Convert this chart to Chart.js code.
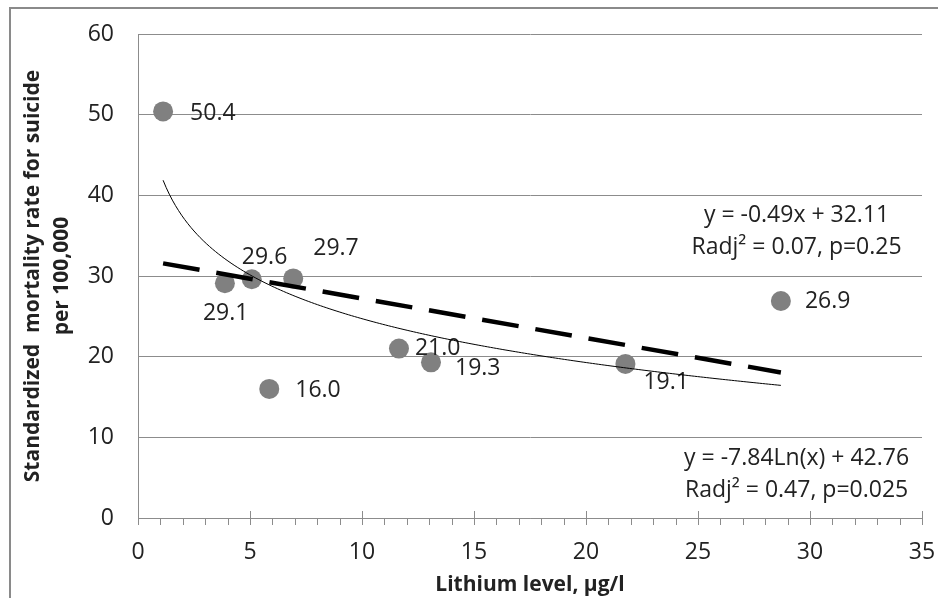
<!DOCTYPE html>
<html>
<head>
<meta charset="utf-8">
<script src="https://cdn.jsdelivr.net/npm/chart.js@4.4.1/dist/chart.umd.min.js"></script>
<style>
  html, body { margin: 0; padding: 0; background: #fff; }
  #wrap { position: relative; width: 938px; height: 598px; }
  #frame { position: absolute; left: 9px; top: 7px; right: -4px; bottom: -4px; border-top: 2px solid #8a8a8a; border-left: 2px solid #8a8a8a; }
  canvas { position: absolute; left: 0; top: 0; }
</style>
</head>
<body>
<div id="wrap">
  <div id="frame"></div>
  <canvas id="chart" width="938" height="598"></canvas>
</div>
<script>
/*-----------------------------
Data
------------------------------*/
const lithium = [1.12, 3.88, 5.08, 5.86, 6.93, 11.65, 13.08, 21.76, 28.7];
const smr = [50.4, 29.1, 29.6, 16.0, 29.7, 21.0, 19.3, 19.1, 26.9];
const pointLabels = ['50.4', '29.1', '29.6', '16.0', '29.7', '21.0', '19.3', '19.1', '26.9'];

// trend lines as printed on the chart: [slope, intercept]
const linFit = [-0.49, 32.11];
const logFit = [-7.84, 42.76];
const fitRange = [1.12, 28.7];

const linText = ['y = -0.49x + 32.11', 'Radj\u00B2 = 0.07, p=0.25'];
const logText = ['y = -7.84Ln(x) + 42.76', 'Radj\u00B2 = 0.47, p=0.025'];

const xTitle = 'Lithium level, \u00B5g/l';
const yTitle = ['Standardized  mortality rate for suicide', 'per 100,000'];

// label placement next to each point (left edge dx, middle dy), px
const labelOffsets = [[27, 2], [-22, 30], [-10, -22], [26, 2], [20, -30], [16, 0], [24, 6], [18, 19], [24, 0]];

const FONT = '"Open Sans", "DejaVu Sans", sans-serif';
const TXT = '#222';
const GRID = '#8c8c8c';

//------------------------
// trend lines, ticks, labels
//------------------------
const extras = {
  id: 'extras',
  afterDatasetsDraw(chart) {
    const c = chart.ctx;
    const xs = chart.scales.x, ys = chart.scales.y;
    const area = chart.chartArea;

    // x-axis ticks: minor every 1, major every 5 (crossing)
    c.save();
    c.strokeStyle = GRID;
    c.lineWidth = 1;
    for (let v = xs.min; v <= xs.max; v++) {
      const px = Math.round(xs.getPixelForValue(v)) + 0.5;
      c.beginPath();
      c.moveTo(px, area.bottom + (v % 5 === 0 ? -7 : 0));
      c.lineTo(px, area.bottom + 7);
      c.stroke();
    }
    c.restore();

    // point labels
    c.save();
    c.font = '23px ' + FONT;
    c.fillStyle = TXT;
    c.textBaseline = 'middle';
    c.textAlign = 'left';
    lithium.forEach((x, i) => {
      const px = xs.getPixelForValue(x), py = ys.getPixelForValue(smr[i]);
      c.fillText(pointLabels[i], px + labelOffsets[i][0], py + labelOffsets[i][1]);
    });
    c.restore();

    // linear trend (dashed)
    c.save();
    c.strokeStyle = '#000';
    c.lineWidth = 4.5;
    c.setLineDash([37, 17]);
    c.beginPath();
    c.moveTo(xs.getPixelForValue(fitRange[0]), ys.getPixelForValue(linFit[0] * fitRange[0] + linFit[1]));
    c.lineTo(xs.getPixelForValue(fitRange[1]), ys.getPixelForValue(linFit[0] * fitRange[1] + linFit[1]));
    c.stroke();
    c.restore();

    // logarithmic trend (thin)
    c.save();
    c.strokeStyle = '#000';
    c.lineWidth = 1;
    c.beginPath();
    const steps = 200;
    for (let k = 0; k <= steps; k++) {
      const x = fitRange[0] + (fitRange[1] - fitRange[0]) * k / steps;
      const px = xs.getPixelForValue(x), py = ys.getPixelForValue(logFit[0] * Math.log(x) + logFit[1]);
      if (k === 0) c.moveTo(px, py); else c.lineTo(px, py);
    }
    c.stroke();
    c.restore();

    // equations
    c.save();
    c.font = '23px ' + FONT;
    c.fillStyle = TXT;
    c.textAlign = 'center';
    c.textBaseline = 'middle';
    const cx = xs.getPixelForValue(29.4);
    c.fillText(linText[0], cx, ys.getPixelForValue(37.5));
    c.fillText(linText[1], cx, ys.getPixelForValue(33.5));
    c.fillText(logText[0], cx, ys.getPixelForValue(7.4));
    c.fillText(logText[1], cx, ys.getPixelForValue(3.4));
    c.restore();
  }
};

const ctx = document.getElementById('chart');

new Chart(ctx, {
  type: 'scatter',
  data: {
    datasets: [{
      data: lithium.map((x, i) => ({ x: x, y: smr[i] })),
      backgroundColor: '#808080',
      borderWidth: 0,
      pointRadius: 10,
      pointHoverRadius: 10
    }]
  },
  options: {
    responsive: false,
    animation: false,
    events: [],
    layout: {
      padding: { left: 18, top: 34, right: 0, bottom: 0 }
    },
    scales: {
      x: {
        type: 'linear',
        min: 0,
        max: 35,
        afterFit: (s) => { s.height = 80; s.paddingRight = 16; },
        ticks: {
          stepSize: 1,
          autoSkip: false,
          maxRotation: 0,
          padding: 21,
          color: TXT,
          font: { family: FONT, size: 23 },
          callback: (v) => (v % 5 === 0 ? v : '')
        },
        grid: { display: false, drawTicks: false },
        border: { display: true, color: GRID, width: 1 },
        title: {
          display: true,
          text: xTitle,
          color: TXT,
          font: { family: FONT, size: 21, weight: 'bold' },
          padding: { top: 0, bottom: 0 }
        }
      },
      y: {
        min: 0,
        max: 60,
        afterFit: (s) => { s.width = 120; s.paddingTop = 0; s.paddingBottom = 0; },
        ticks: {
          stepSize: 10,
          padding: 24,
          color: TXT,
          font: { family: FONT, size: 23 }
        },
        grid: { color: GRID, drawTicks: false, lineWidth: 1 },
        border: { display: true, color: GRID, width: 1 },
        title: {
          display: true,
          text: yTitle,
          color: TXT,
          font: { family: FONT, size: 21, weight: 'bold', lineHeight: 1.4 },
          padding: { top: 0, bottom: 0 }
        }
      }
    },
    plugins: {
      legend: { display: false },
      tooltip: { enabled: false }
    }
  },
  plugins: [extras]
});
</script>
</body>
</html>
